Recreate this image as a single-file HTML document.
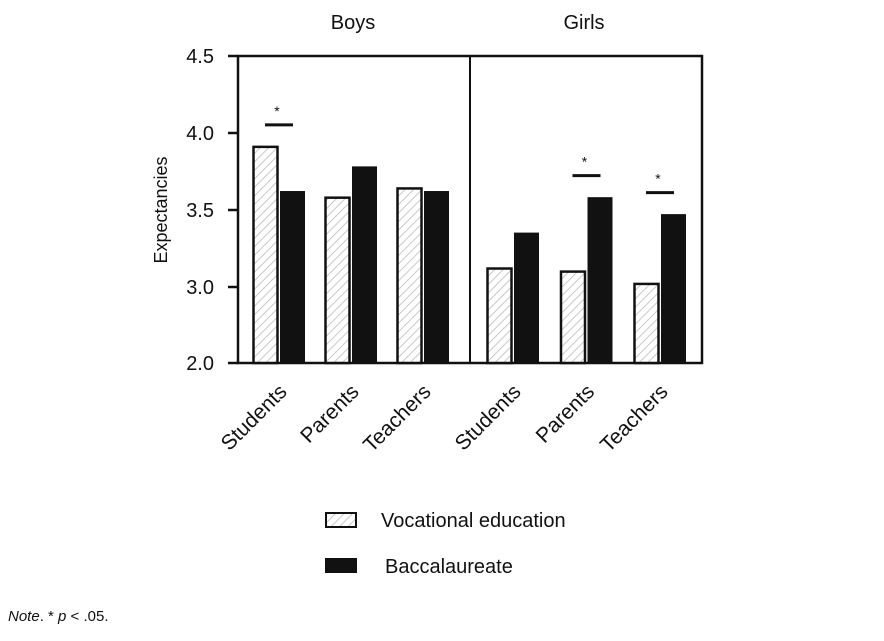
<!DOCTYPE html>
<html><head><meta charset="utf-8"><style>
body{margin:0;background:#fff;font-family:"Liberation Sans",sans-serif;}
svg text{font-family:"Liberation Sans","DejaVu Sans",sans-serif;fill:#111;}
</style></head><body>
<svg id="chart" width="884" height="636" xmlns="http://www.w3.org/2000/svg">
<defs><pattern id="hatch" width="6" height="6" patternUnits="userSpaceOnUse" patternTransform="rotate(45)"><rect width="6" height="6" fill="#fff"/><line x1="0" y1="0" x2="0" y2="6" stroke="#bbb" stroke-width="1.6"/></pattern></defs>
<g id="plot"></g>
</svg>
<script>
const groups=['Boys','Girls'];
const categories=['Students','Parents','Teachers','Students','Parents','Teachers'];
const vocational=[3.91,3.58,3.64,3.12,3.10,3.02];
const baccalaureate=[3.62,3.78,3.62,3.35,3.58,3.47];
const significant=[true,false,false,false,true,true];
const yTicks=[2.0,3.0,3.5,4.0,4.5];
const yTickLabels=['2.0','3.0','3.5','4.0','4.5'];

const svg=document.getElementById('plot');
const NS='http://www.w3.org/2000/svg';
const L=238,R=702,T=56,B=363,MID=470;
function y(v){return v>=3?287-(v-3)*154:287+(3-v)*76;}
function xc(i){const g=i<3?0:1;return g?MID+43+(i%3)*73.5:L+41+(i%3)*72;}
function mk(tag,attrs,parent){const e=document.createElementNS(NS,tag);for(const k in attrs)e.setAttribute(k,attrs[k]);(parent||svg).appendChild(e);return e;}

const frame=mk('rect',{x:L,y:T,width:R-L,height:B-T,fill:'none',stroke:'#111','stroke-width':2.5});


const div=mk('line',{x1:MID,y1:T,x2:MID,y2:B,stroke:'#111','stroke-width':2});



groups.forEach((g,gi)=>{const t=mk('text',{x:gi?584:353,y:29,'text-anchor':'middle','font-size':20});t.textContent=g;

});

yTicks.forEach((v,i)=>{const tk=mk('line',{x1:228,y1:y(v),x2:L,y2:y(v),stroke:'#111','stroke-width':2.5});


const t=mk('text',{x:214,y:y(v)+7,'text-anchor':'end','font-size':20});t.textContent=yTickLabels[i];

});

const yt=mk('text',{x:0,y:0,transform:'translate(167,210) rotate(-90)','text-anchor':'middle','font-size':18});yt.textContent='Expectancies';



const bw=24;
categories.forEach((c,i)=>{const cx=xc(i);
const b1=mk('rect',{x:cx-bw-1.5,y:y(vocational[i]),width:bw,height:B-y(vocational[i]),fill:'url(#hatch)',stroke:'#111','stroke-width':2.5});


const b2=mk('rect',{x:cx+1.5,y:y(baccalaureate[i]),width:bw,height:B-y(baccalaureate[i]),fill:'#111',stroke:'#111','stroke-width':1});


if(significant[i]){const top=Math.max(vocational[i],baccalaureate[i]);const ly=y(top)-22;
const sl=mk('line',{x1:cx-14,y1:ly,x2:cx+14,y2:ly,stroke:'#111','stroke-width':3});


const st=mk('text',{x:cx-2,y:ly-9,'text-anchor':'middle','font-size':14});st.textContent='*';

}
const t=mk('text',{x:0,y:0,transform:`translate(${cx+9},${393}) rotate(-45)`,'text-anchor':'end','font-size':21});t.textContent=c;

});

const lg1=mk('rect',{x:326,y:513,width:30,height:14,fill:'url(#hatch)',stroke:'#111','stroke-width':2});


const lt1=mk('text',{x:381,y:527,'font-size':20});lt1.textContent='Vocational education';


const lg2=mk('rect',{x:325,y:558,width:32,height:15,fill:'#111'});


const lt2=mk('text',{x:385,y:573,'font-size':20});lt2.textContent='Baccalaureate';


const note=mk('text',{x:8,y:621,'font-size':15});note.innerHTML='<tspan font-style="italic">Note</tspan>. * <tspan font-style="italic">p</tspan> &lt; .05.';


</script>
</body></html>
